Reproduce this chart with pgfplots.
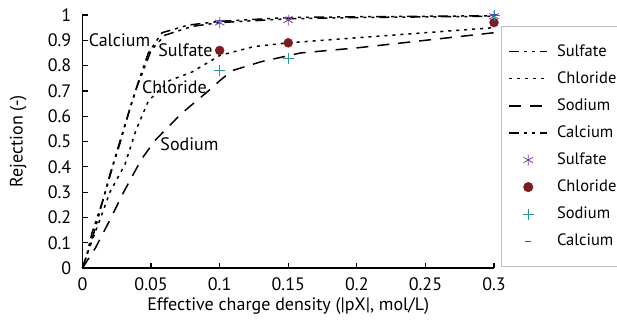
\documentclass[border=0pt]{standalone}
\usepackage{fontspec}
\setmainfont{PT Sans}
\usepackage{pgfplots}
\pgfplotsset{compat=1.18}
\definecolor{sulf}{RGB}{128,64,160}
\definecolor{chlo}{RGB}{125,28,32}
\definecolor{sodc}{RGB}{40,150,150}
\definecolor{calc}{RGB}{50,90,190}
\pgfplotsset{
  lineleg/.style={legend image code/.code={\draw[##1] (0pt,0pt) -- (38pt,0pt);}},
  markleg/.style={legend image code/.code={\draw[##1] plot coordinates {(19pt,0pt)};}},
}
\newcommand{\fs}{\fontsize{18}{21}\selectfont}
\newcommand{\fl}{\fontsize{16.5}{19}\selectfont}
\begin{document}
\fs
\begin{tikzpicture}
\begin{axis}[
  scale only axis, width=411.5pt, height=253pt,
  xmin=0, xmax=0.3, ymin=0, ymax=1,
  axis lines=left, axis line style={-, line width=1.3pt},
  tick align=inside, major tick length=5pt,
  tick style={black, line width=1.2pt},
  xtick={0,0.05,0.1,0.15,0.2,0.25,0.3},
  xticklabels={0,0.05,0.1,0.15,0.2,0.25,0.3},
  ytick={0,0.1,0.2,0.3,0.4,0.5,0.6,0.7,0.8,0.9,1},
  yticklabels={0,0.1,0.2,0.3,0.4,0.5,0.6,0.7,0.8,0.9,1},
  /pgf/number format/assume math mode=true,
  ticklabel style={font=\fs},
  xticklabel style={yshift=-3pt},
  yticklabel style={xshift=-5pt},
  label style={font=\fs},
  xlabel={Effective charge density (|pX|, mol/L)},
  ylabel={Rejection (-)},
  xlabel style={at={(axis description cs:0.5,-0.15)}, anchor=center},
  ylabel style={at={(axis description cs:-0.156,0.5)}, anchor=center},
  clip=false,
  legend cell align=left,
  legend style={at={(axis description cs:1,1)}, anchor=north west,
    xshift=7pt, yshift=-11pt, draw={black!25}, line width=1pt,
    inner xsep=7pt, inner ysep=15pt, row sep=6.9pt,
    font=\fl,
    /tikz/every odd column/.append style={column sep=5pt},
    nodes={inner xsep=4pt, inner ysep=2pt, text height=12.5pt, text depth=3.7pt}},
]
\coordinate (O) at (rel axis cs:0,0);
% model curves
\addplot[black, line width=1.5pt, dash pattern=on 10pt off 5pt on 3pt off 5pt on 3pt off 5pt, lineleg]
  coordinates {(0,0) (0.005,0.08) (0.01,0.17) (0.02,0.37) (0.03,0.55) (0.04,0.72) (0.05,0.86) (0.06,0.92) (0.08,0.955) (0.1,0.97) (0.15,0.985) (0.2,0.99) (0.3,0.995)};
\addlegendentry{Sulfate}
\addplot[black, line width=1.5pt, dash pattern=on 3pt off 5pt, lineleg]
  coordinates {(0,0) (0.005,0.08) (0.012,0.18) (0.02,0.30) (0.031,0.41) (0.039,0.545) (0.048,0.66) (0.063,0.74) (0.08,0.775) (0.1,0.84) (0.125,0.875) (0.15,0.89) (0.2,0.91) (0.25,0.93) (0.3,0.95)};
\addlegendentry{Chloride}
\addplot[black, line width=1.5pt, dash pattern=on 12pt off 9pt, lineleg]
  coordinates {(0,0) (0.0095,0.08) (0.02,0.19) (0.03,0.30) (0.043,0.43) (0.053,0.505) (0.072,0.61) (0.094,0.71) (0.1,0.74) (0.109,0.78) (0.13,0.815) (0.159,0.85) (0.2,0.87) (0.25,0.9) (0.3,0.93)};
\addlegendentry{Sodium}
\addplot[black, line width=1.5pt, dash pattern=on 10pt off 5pt on 3pt off 5pt on 3pt off 5pt, lineleg]
  coordinates {(0,0) (0.003,0.05) (0.007,0.14) (0.015,0.27) (0.022,0.40) (0.028,0.505) (0.035,0.64) (0.041,0.74) (0.048,0.85) (0.058,0.93) (0.077,0.96) (0.1,0.975) (0.15,0.99) (0.2,0.993) (0.3,0.997)};
\addlegendentry{Calcium}
% measured points
\addplot[only marks, mark=asterisk, mark size=5.5pt, color=sulf, line width=0.8pt, markleg]
  coordinates {(0.1,0.97) (0.15,0.98) (0.3,0.995)};
\addlegendentry{Sulfate}
\addplot[only marks, mark=*, mark size=4.5pt, color=chlo, fill=chlo, markleg]
  coordinates {(0.1,0.86) (0.15,0.89) (0.3,0.97)};
\addlegendentry{Chloride}
\addplot[only marks, mark=+, mark size=5.5pt, color=sodc, line width=0.8pt, markleg]
  coordinates {(0.1,0.78) (0.15,0.83) (0.3,1.0)};
\addlegendentry{Sodium}
\addplot[only marks, mark=-, mark size=3pt, color=calc, line width=1.5pt, markleg]
  coordinates {(0.1,0.978) (0.15,0.99) (0.3,1.0)};
\addlegendentry{Calcium}
% curve labels
\node[font=\fs] at (axis cs:0.027,0.9) {Calcium};
\node[font=\fs] at (axis cs:0.075,0.86) {Sulfate};
\node[font=\fs] at (axis cs:0.067,0.715) {Chloride};
\node[font=\fs] at (axis cs:0.078,0.49) {Sodium};
\end{axis}
\pgfresetboundingbox
\path (O) ++(-82.5pt,-65pt) rectangle ++(617pt,333pt);
\end{tikzpicture}
\end{document}
